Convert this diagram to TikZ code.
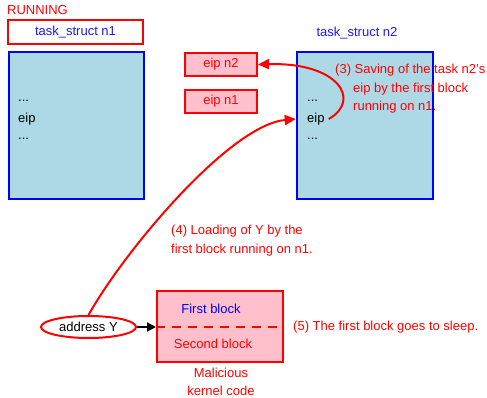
\documentclass[tikz,border=0pt]{standalone}
\usepackage{fontspec}
\setmainfont{Liberation Sans}
\usetikzlibrary{arrows.meta,shapes.geometric}
\definecolor{lblue}{HTML}{ADD8E6}
\definecolor{pinkc}{HTML}{FFC0CB}
\definecolor{tblue}{HTML}{1A1AFF}
\begin{document}
\begin{tikzpicture}[x=1pt,y=-1pt,
  font=\fontsize{13}{18.5}\selectfont,
  redbox/.style={draw=red, line width=2pt, inner sep=0pt},
  pinkbox/.style={draw=red, fill=pinkc, line width=2pt, inner sep=0pt, minimum width=72pt, minimum height=23pt, text=red},
  taskbox/.style={draw=blue, fill=lblue, line width=2.5pt, inner sep=0pt, minimum width=135pt, minimum height=147pt},
  redtxt/.style={text=red, inner sep=0pt},
  blacktxt/.style={text=black, inner sep=0pt, anchor=west},
  redarrow/.style={draw=red, line width=2pt, -{Triangle[length=11pt,width=10pt]}}
]
\useasboundingbox (0,0) rectangle (487,398);

% left task struct
\node[redtxt, anchor=west] (running) at (7,10) {RUNNING};
\node[redbox, minimum width=135pt, minimum height=24pt, text=tblue] (ts1) at (75.5,32) {task\_struct n1};
\node[taskbox] (box1) at (76.5,125.5) {};
\node[blacktxt] (d1a) at (18,101) {...};
\node[blacktxt] (eip1) at (18,119) {eip};
\node[blacktxt] (d1b) at (18,139) {...};

% eip boxes
\node[pinkbox] (eipn2) at (221,64.5) {eip n2};
\node[pinkbox] (eipn1) at (221,101.5) {eip n1};

% right task struct
\node[text=tblue, inner sep=0pt] (ts2) at (357,33) {task\_struct n2};
\node[taskbox, minimum width=136pt] (box2) at (365,125.5) {};
\node[blacktxt] (d2a) at (307,101) {...};
\node[blacktxt] (eip2) at (307,119) {eip};
\node[blacktxt] (d2b) at (307,139) {...};

% step 3 text
\node[redtxt, anchor=north west, align=left] (t3) at (353,64)
  {\hspace*{-18pt}(3) Saving of the task n2's\\eip by the first block\\running on n1.};

% bottom
\node[draw=red, fill=white, line width=2pt, ellipse, minimum width=95pt, minimum height=22pt, inner sep=0pt] (addr) at (88.5,327) {address Y};
\node[draw=red, fill=pinkc, line width=2pt, minimum width=126pt, minimum height=71pt, inner sep=0pt] (mal) at (220,326.5) {};
\draw[red, line width=2pt, dash pattern=on 9pt off 7pt] (mal.west |- addr) -- (mal.east |- addr);
\node[text=blue, inner sep=0pt] (fb) at (211,309) {First block};
\node[redtxt] (sb) at (213,344) {Second block};
\node[redtxt, align=center] (malt) at (221,382) {Malicious\\kernel code};
\node[redtxt, anchor=west] (t5) at (293,327) {(5) The first block goes to sleep.};
\node[redtxt, anchor=north west, align=left] (t4) at (171,225) {(4) Loading of Y by the\\first block running on n1.};

% connectors
\draw[line width=2pt, -{Triangle[length=9pt,width=9pt]}] (addr.east) -- (mal.west |- addr);
\coordinate (s3) at ([xshift=4pt]eip2.east);
\draw[redarrow] (s3) .. controls (362,100) and (338,62) .. (eipn2.east);
\draw[redarrow] (addr.north) .. controls (125,250) and (230,125) .. (box2.west |- eip2);
\end{tikzpicture}
\end{document}
